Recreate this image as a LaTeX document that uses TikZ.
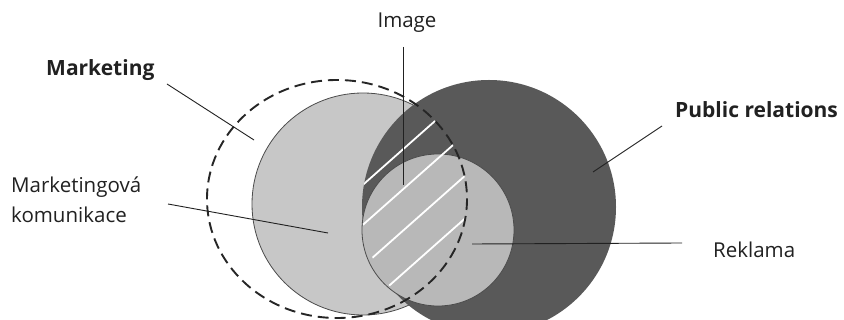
\documentclass[tikz,border=0pt]{standalone}
\usepackage{fontspec}
\setmainfont{Open Sans}
\definecolor{lightc}{gray}{0.78}
\definecolor{darkc}{gray}{0.35}
\definecolor{rekc}{gray}{0.72}
\definecolor{txt}{gray}{0.13}
\begin{document}
\begin{tikzpicture}[x=1pt,y=-1pt,
  lbl/.style={font=\fontsize{20.5}{30}\selectfont, text=txt, inner sep=0pt},
  blbl/.style={lbl, font=\fontsize{21}{30}\selectfont\bfseries},
  lead/.style={draw=txt, line width=0.9pt},
  hatchline/.style={draw=white, line width=1.8pt},
  outl/.style={draw=black!70, line width=0.8pt}]
\useasboundingbox (0,0) rectangle (844,320);
\fill[white] (0,0) rectangle (844,320);
% circle centres
\coordinate (mk) at (337,199);
\coordinate (mc) at (363,204);
\coordinate (pr) at (489,207);
\coordinate (rk) at (438,230);
% fills
\fill[white] (mk) ellipse [x radius=130, y radius=119];
\fill[lightc] (mc) circle [radius=111];
\draw[outl] (mc) circle [radius=111];
\fill[darkc] (pr) circle [radius=127];
\fill[rekc] (rk) circle [radius=76];
\draw[outl] (rk) circle [radius=76];
% hatching of Image area
\begin{scope}
  \clip (pr) circle [radius=127];
  \clip (mk) ellipse [x radius=130, y radius=119];
  \coordinate (h1a) at (340,205.1); \coordinate (h1b) at (480,81.2);
  \coordinate (h2a) at (340,245.1); \coordinate (h2b) at (480,121.2);
  \coordinate (h3a) at (340,286.5); \coordinate (h3b) at (480,162.5);
  \coordinate (h4a) at (340,329.2); \coordinate (h4b) at (480,205.2);
  \draw[hatchline] (h1a) -- (h1b);
  \draw[hatchline] (h2a) -- (h2b);
  \draw[hatchline] (h3a) -- (h3b);
  \draw[hatchline] (h4a) -- (h4b);
\end{scope}
% dashed marketing outline
\draw[draw=black!85, line width=1.9pt, dash pattern=on 11pt off 6pt] (mk) ellipse [x radius=130, y radius=119];
% labels
\node[blbl, anchor=west] (mkt) at (46,70) {Marketing};
\node[lbl, anchor=west, align=left] (mkom) at (11,200) {Marketingová\\komunikace};
\node[lbl] (img) at (407,23) {Image};
\node[blbl, anchor=west] (pub) at (675,110) {Public relations};
\node[lbl, anchor=west] (rek) at (713,250) {Reklama};
% leader line ends
\coordinate (mktA) at (167,84);  \coordinate (mktB) at (254,140);
\coordinate (mkomA) at (168,204); \coordinate (mkomB) at (328,233);
\coordinate (imgA) at (403,47);  \coordinate (imgB) at (403,185);
\coordinate (pubA) at (662,126); \coordinate (pubB) at (593,172);
\coordinate (rekA) at (682,243); \coordinate (rekB) at (472,244);
\draw[lead] (mktA) -- (mktB);
\draw[lead] (mkomA) -- (mkomB);
\draw[lead] (imgA) -- (imgB);
\draw[lead] (pubA) -- (pubB);
\draw[lead] (rekA) -- (rekB);
\end{tikzpicture}
\end{document}
